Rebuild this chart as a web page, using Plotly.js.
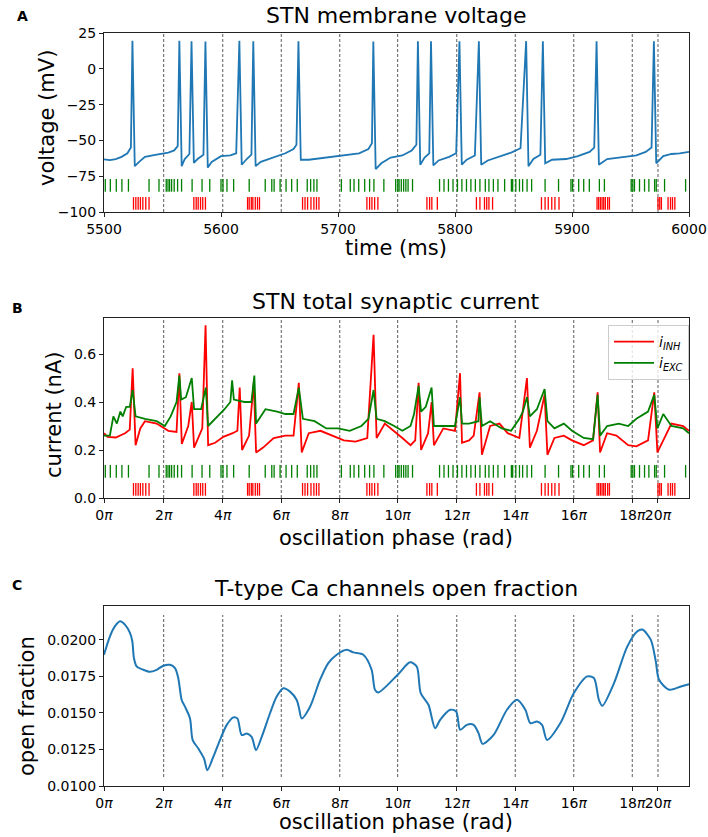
<!DOCTYPE html>
<html>
<head>
<meta charset="utf-8">
<script src="https://cdn.plot.ly/plotly-3.0.1.min.js"></script>
<style>
  body { margin: 0; background: #fff; }
  #grafico { width: 708px; height: 837px; }
</style>
</head>
<body>
<div id="grafico"></div>
<script>
// --- datos ---
const voltTime = [5500, 5505, 5510, 5515, 5520, 5523, 5524.3, 5526.3, 5530, 5535, 5545, 5555, 5560, 5563, 5564.4, 5566.4,
  5569, 5573, 5574.8, 5576.8, 5580, 5585, 5586.7, 5588.7, 5592, 5600, 5608, 5613, 5615.7, 5617.7, 5622, 5626, 5627.6,
  5629.6, 5634, 5645, 5655, 5662, 5664.5, 5666.2, 5668.2, 5675, 5690, 5705, 5718, 5726, 5729, 5730.2, 5732.2, 5737,
  5745, 5755, 5763, 5767, 5768.3, 5770.3, 5774, 5778, 5779.5, 5781.5, 5786, 5795, 5801, 5803.8, 5805.8, 5810, 5817,
  5820.4, 5822.4, 5828, 5835, 5848, 5856, 5860.8, 5862.8, 5867, 5873, 5875.1, 5877.1, 5883, 5895, 5905, 5915, 5919,
  5921, 5923, 5930, 5945, 5955, 5963, 5968, 5970, 5972, 5978, 5985, 5992, 6000];
const voltValue = [-63.3, -63.8, -63, -61.5, -59, -55, 19.5, -68, -65, -61.5, -60, -58.5, -57, -54, 19.5, -68,
  -63, -59.5, 19.3, -65.7, -63, -60, 19, -69, -65, -61, -60.5, -59, 19.5, -67, -63, -60, 19.2,
  -68, -65, -62, -59, -56, -53, 19.2, -63.5, -63.5, -62, -60.5, -59, -56, -52, 19, -70, -66,
  -62, -60.5, -57, -53, 19.2, -67, -62, -59, 19.3, -67.5, -64, -61.5, -59, 19.2, -67, -63.5, -60.5,
  19.2, -67, -64, -62, -58.5, -55.5, 19.3, -68, -63, -60, 19.2, -66, -63.5, -63, -61, -58, -55,
  19.3, -67, -63, -61.5, -60.5, -58, -55, 19.2, -66, -61, -59.5, -59, -58];

const excSpikeTimes = [5501.1, 5505.4, 5510.5, 5515.3, 5520.9, 5538.5, 5547, 5553.2, 5554.7, 5556.1, 5557.8, 5560,
  5562.9, 5566.3, 5575.3, 5583.8, 5590.4, 5600, 5601.7, 5605.1, 5610.8, 5624.1, 5637.8, 5643.4, 5645.4, 5650.5,
  5655.6, 5660.4, 5665.2, 5673.7, 5676.6, 5679.4, 5682, 5702.9, 5710.5, 5713.7, 5717.7, 5722.8, 5727, 5730.7,
  5739.2, 5749.3, 5751.1, 5752.2, 5754.1, 5756.1, 5758, 5759.9, 5763.7, 5786.8, 5790.6, 5794.4, 5798.3, 5802.1,
  5805.9, 5809.8, 5813.6, 5817.4, 5821.3, 5825.9, 5829, 5832.8, 5836.7, 5842.4, 5848.2, 5849.3, 5852, 5855.1,
  5857.8, 5861.6, 5865.5, 5877, 5888.5, 5899.1, 5900.5, 5905.7, 5910, 5914.8, 5923.4, 5927.7, 5950.6, 5952,
  5953.4, 5957.7, 5962, 5965.7, 5970.6, 5972, 5979.1, 5997.1];
const inhSpikeTimes = [5525.2, 5527.2, 5529.2, 5531.1, 5533.2, 5535.7, 5538.5,
  5576.8, 5578.8, 5580.5, 5582.5, 5584.4, 5586.7,
  5622.7, 5624.1, 5625.9, 5627.2, 5629.3, 5631.2, 5632.9,
  5669.7, 5671.8, 5674, 5676.9, 5679.4, 5681.6, 5683.7,
  5724.7, 5727, 5729, 5731.3, 5734.1,
  5776, 5778.3, 5780.2, 5784.9,
  5818.3, 5821.3, 5825.2, 5827.1, 5829, 5832.1,
  5873.9, 5877, 5879.7, 5882.7, 5885.4, 5888.9,
  5921.4, 5922.8, 5924.3, 5925.7, 5927.1, 5928.5, 5930.5, 5932,
  5973.5, 5975, 5976.4, 5982.1, 5984.2, 5985.9, 5987.9];

const inhTime = [5500, 5503, 5510, 5518, 5522, 5524.5, 5527, 5531, 5535, 5545, 5555, 5562, 5564.4, 5566.5, 5572,
  5575, 5577, 5584, 5586.8, 5589, 5595, 5602, 5610, 5614, 5616, 5618, 5624, 5628, 5630, 5636, 5645, 5655, 5662,
  5666.5, 5669, 5675, 5685, 5695, 5705, 5715, 5725, 5730.4, 5733, 5740, 5748, 5755, 5762, 5766, 5768.9, 5771,
  5777, 5780, 5782, 5790, 5800, 5804.3, 5806, 5812, 5816, 5821, 5823, 5830, 5838, 5845, 5855, 5861.5, 5864, 5870,
  5876.6, 5879, 5885, 5893, 5900, 5910, 5918, 5921.9, 5924, 5930, 5938, 5948, 5955, 5965, 5970.3, 5973, 5978,
  5985, 5995, 6000];
const inhValue = [0.27, 0.255, 0.252, 0.27, 0.285, 0.54, 0.22, 0.29, 0.32, 0.31, 0.28, 0.275, 0.52, 0.225, 0.30,
  0.40, 0.21, 0.29, 0.72, 0.22, 0.23, 0.255, 0.27, 0.28, 0.46, 0.20, 0.26, 0.48, 0.19, 0.21, 0.25, 0.26, 0.26,
  0.48, 0.19, 0.27, 0.28, 0.26, 0.24, 0.235, 0.25, 0.68, 0.25, 0.31, 0.28, 0.25, 0.22, 0.24, 0.48, 0.20,
  0.27, 0.40, 0.22, 0.29, 0.28, 0.52, 0.23, 0.24, 0.26, 0.44, 0.18, 0.30, 0.31, 0.27, 0.25, 0.50, 0.21, 0.28,
  0.43, 0.18, 0.25, 0.26, 0.24, 0.22, 0.24, 0.44, 0.19, 0.27, 0.26, 0.22, 0.215, 0.24, 0.44, 0.19, 0.24,
  0.31, 0.30, 0.28];

const excTime = [5500, 5505, 5508, 5511, 5514, 5516, 5519, 5522, 5524.5, 5527, 5535, 5545, 5552, 5557, 5562, 5564.4,
  5566, 5570, 5575, 5577, 5583, 5587, 5589, 5597, 5603, 5608, 5609.5, 5611, 5620, 5626, 5628.5, 5630, 5638, 5648,
  5655, 5662, 5666.5, 5670, 5680, 5690, 5700, 5710, 5720, 5726, 5730.4, 5733, 5740, 5748, 5755, 5762, 5765, 5768.9,
  5771, 5775, 5780, 5782, 5790, 5800, 5804.3, 5806, 5812, 5820, 5821, 5823, 5830, 5840, 5848, 5855, 5858, 5861.5,
  5864, 5870, 5876.6, 5879, 5885, 5893, 5900, 5910, 5918, 5921.9, 5924, 5930, 5940, 5948, 5955, 5965, 5970.3, 5973,
  5978, 5985, 5995, 6000];
const excValue = [0.26, 0.26, 0.34, 0.31, 0.36, 0.34, 0.38, 0.38, 0.45, 0.34, 0.33, 0.32, 0.30, 0.34, 0.40, 0.51,
  0.41, 0.42, 0.50, 0.37, 0.37, 0.46, 0.30, 0.34, 0.37, 0.40, 0.49, 0.41, 0.40, 0.40, 0.51, 0.31, 0.37, 0.36,
  0.35, 0.35, 0.46, 0.33, 0.32, 0.29, 0.29, 0.28, 0.30, 0.33, 0.45, 0.33, 0.32, 0.30, 0.28, 0.30, 0.35, 0.467,
  0.36, 0.38, 0.46, 0.30, 0.30, 0.30, 0.42, 0.31, 0.31, 0.32, 0.42, 0.30, 0.32, 0.29, 0.28, 0.33, 0.36, 0.42,
  0.34, 0.37, 0.454, 0.32, 0.29, 0.31, 0.28, 0.25, 0.245, 0.43, 0.26, 0.30, 0.31, 0.30, 0.33, 0.36, 0.43, 0.29,
  0.35, 0.30, 0.29, 0.27];

const openTime = [5500, 5505.1, 5509.4, 5513.7, 5517.9, 5522.2, 5524.2, 5525.6, 5527.9, 5533.6, 5539.3, 5545, 5550.7,
  5556.4, 5560.7, 5563.5, 5566.4, 5569.2, 5573.5, 5575.8, 5580.6, 5585.5, 5588.3, 5593.4, 5599.1, 5604.8, 5610.5,
  5614, 5617.7, 5622, 5626.2, 5629.9, 5634.8, 5641.9, 5647.6, 5653.3, 5659, 5664.7, 5666.7, 5669, 5676.1, 5684.6,
  5691.7, 5698.9, 5707.4, 5713.1, 5721.6, 5728.7, 5731.6, 5734.4, 5751, 5761.6, 5767.3, 5770.7, 5777.3, 5783,
  5787.3, 5795.9, 5801, 5804.4, 5810.1, 5815.9, 5820.1, 5823.6, 5833, 5844.4, 5853, 5860.1, 5864.4, 5870.1,
  5874.4, 5878.7, 5890.1, 5901.6, 5913, 5918.7, 5923, 5925.9, 5935.9, 5947.3, 5955.9, 5960.1, 5967.3, 5971.6,
  5974.4, 5983, 5993, 6000];
const openValue = [0.01897, 0.02023, 0.02092, 0.02126, 0.02103, 0.02046, 0.01989, 0.01874, 0.01817, 0.01794,
  0.0178, 0.01794, 0.01822, 0.01828, 0.01805, 0.01737, 0.01588, 0.01542, 0.01462, 0.01314, 0.01256, 0.01188,
  0.01108, 0.01199, 0.01314, 0.01416, 0.01469, 0.01462, 0.01348, 0.01359, 0.01336, 0.01245, 0.01336, 0.01497,
  0.01611, 0.01668, 0.01645, 0.01588, 0.01531, 0.01462, 0.01542, 0.01725, 0.0184, 0.01897, 0.01931, 0.01913,
  0.01897, 0.01795, 0.01658, 0.01639, 0.0176, 0.01845, 0.01817, 0.01635, 0.01555, 0.01395, 0.01452, 0.01521,
  0.01509, 0.01384, 0.01418, 0.01418, 0.01361, 0.01288, 0.01349, 0.01521, 0.01589, 0.01521, 0.0143, 0.01441,
  0.01418, 0.01315, 0.0143, 0.01635, 0.01749, 0.01738, 0.01589, 0.01548, 0.01703, 0.01954, 0.02057, 0.02069,
  0.02, 0.01852, 0.01726, 0.01658, 0.0168, 0.01696];

const phaseTickTimes = [5500, 5551, 5601.5, 5651.5, 5701.5, 5751, 5801.5, 5851.5, 5901.5, 5951.5, 5973.5];
const phaseTickLabels = ['0<i>π</i>', '2<i>π</i>', '4<i>π</i>', '6<i>π</i>', '8<i>π</i>', '10<i>π</i>',
  '12<i>π</i>', '14<i>π</i>', '16<i>π</i>', '18<i>π</i>', '20<i>π</i>'];

// --- geometria (pixeles de la figura) ---
const W = 708, H = 837;
const px = x => x / W;
const py = y => 1 - y / H;
const fuente = 'DejaVu Sans, sans-serif';

const rojo = 'red';
const verde = 'green';
const azul = '#1f77b4';

function raster(tiempos, nivel, color, xa, ya) {
  return {
    x: tiempos,
    y: tiempos.map(() => nivel),
    xaxis: xa, yaxis: ya,
    type: 'scatter', mode: 'markers', showlegend: false, hoverinfo: 'skip',
    marker: { symbol: 'line-ns', size: 9, color: color, line: { width: 1.3, color: color } }
  };
}

const trazas = [
  { x: voltTime, y: voltValue, xaxis: 'x', yaxis: 'y', type: 'scatter', mode: 'lines',
    line: { color: azul, width: 1.8 }, showlegend: false },
  raster(excSpikeTimes, -81.4, verde, 'x', 'y'),
  raster(inhSpikeTimes, -94, rojo, 'x', 'y'),

  { x: inhTime, y: inhValue, xaxis: 'x2', yaxis: 'y2', type: 'scatter', mode: 'lines',
    name: '<i>i</i><sub><i>INH</i></sub>', line: { color: rojo, width: 1.8 } },
  { x: excTime, y: excValue, xaxis: 'x2', yaxis: 'y2', type: 'scatter', mode: 'lines',
    name: '<i>i</i><sub><i>EXC</i></sub>', line: { color: verde, width: 1.8 } },
  raster(excSpikeTimes, 0.111, verde, 'x2', 'y2'),
  raster(inhSpikeTimes, 0.036, rojo, 'x2', 'y2'),

  { x: openTime, y: openValue, xaxis: 'x3', yaxis: 'y3', type: 'scatter', mode: 'lines',
    line: { color: azul, width: 2, shape: 'spline', smoothing: 0.8 }, showlegend: false }
];

// lineas discontinuas en cada fase
const shapes = [];
phaseTickTimes.slice(1).forEach(t => {
  [['x', 'y', 0, 1], ['x2', 'y2', 0, 1], ['x3', 'y3', 0.05, 0.95]].forEach(([xa, ya, y0, y1]) => {
    shapes.push({ type: 'line', xref: xa, yref: ya + ' domain', x0: t, x1: t, y0: y0, y1: y1,
      line: { color: '#333', width: 0.8, dash: '3px,2px' }, layer: 'below' });
  });
});

const ejeBase = {
  showline: true, linecolor: '#222', linewidth: 1, mirror: true,
  ticks: 'outside', ticklen: 4, tickwidth: 1, tickcolor: '#222',
  showgrid: false, zeroline: false, tickangle: 0,
  tickfont: { family: fuente, size: 14, color: '#000' }
};
const xDom = [px(104), px(689)];

const layout = {
  width: W, height: H,
  margin: { l: 0, r: 0, t: 0, b: 0 },
  paper_bgcolor: '#fff', plot_bgcolor: '#fff',
  font: { family: fuente, color: '#000' },
  xaxis: Object.assign({}, ejeBase, { domain: xDom, anchor: 'y', range: [5500, 6000],
    tickvals: [5500, 5600, 5700, 5800, 5900, 6000] }),
  yaxis: Object.assign({}, ejeBase, { domain: [py(212), py(33)], anchor: 'x', range: [-100, 25],
    tickvals: [-100, -75, -50, -25, 0, 25] }),
  xaxis2: Object.assign({}, ejeBase, { domain: xDom, anchor: 'y2', range: [5500, 6000],
    tickvals: phaseTickTimes, ticktext: phaseTickLabels }),
  yaxis2: Object.assign({}, ejeBase, { domain: [py(498), py(318)], anchor: 'x2', range: [0, 0.75],
    tickvals: [0, 0.2, 0.4, 0.6], ticktext: ['0.0', '0.2', '0.4', '0.6'] }),
  xaxis3: Object.assign({}, ejeBase, { domain: xDom, anchor: 'y3', range: [5500, 6000],
    tickvals: phaseTickTimes, ticktext: phaseTickLabels }),
  yaxis3: Object.assign({}, ejeBase, { domain: [py(786), py(606)], anchor: 'x3', range: [0.0100, 0.0223],
    tickvals: [0.0100, 0.0125, 0.0150, 0.0175, 0.0200], tickformat: '.4f' }),
  showlegend: true,
  legend: {
    x: px(608), y: py(325), xanchor: 'left', yanchor: 'top',
    bgcolor: 'rgba(255,255,255,0.8)', bordercolor: '#ccc', borderwidth: 1,
    font: { family: fuente, size: 14 }, tracegroupgap: 0, itemwidth: 40
  },
  shapes: shapes,
  annotations: [
    // titulos de cada panel
    { text: 'STN membrane voltage', x: px(396), y: py(16) },
    { text: 'STN total synaptic current', x: px(396), y: py(302) },
    { text: 'T-type Ca channels open fraction', x: px(396), y: py(588) }
  ].map(a => Object.assign(a, { font: { size: 22 } }))
  .concat([
    { text: '<b>A</b>', x: px(22), y: py(16) },
    { text: '<b>B</b>', x: px(17), y: py(308) },
    { text: '<b>C</b>', x: px(17), y: py(585) }
  ].map(a => Object.assign(a, { font: { size: 14 } })))
  .concat([
    { text: 'time (ms)', x: px(396), y: py(248) },
    { text: 'oscillation phase (rad)', x: px(396), y: py(538) },
    { text: 'oscillation phase (rad)', x: px(396), y: py(822) },
    { text: 'voltage (mV)', x: px(47), y: py(118), textangle: -90 },
    { text: 'current (nA)', x: px(54), y: py(415), textangle: -90 },
    { text: 'open fraction', x: px(27), y: py(706), textangle: -90 }
  ].map(a => Object.assign(a, { font: { size: 21 } })))
  .map(a => Object.assign(a, { xref: 'paper', yref: 'paper', showarrow: false,
    xanchor: 'center', yanchor: 'middle' }))
};

Plotly.newPlot('grafico', trazas, layout, { displayModeBar: false, staticPlot: true });
</script>
</body>
</html>
